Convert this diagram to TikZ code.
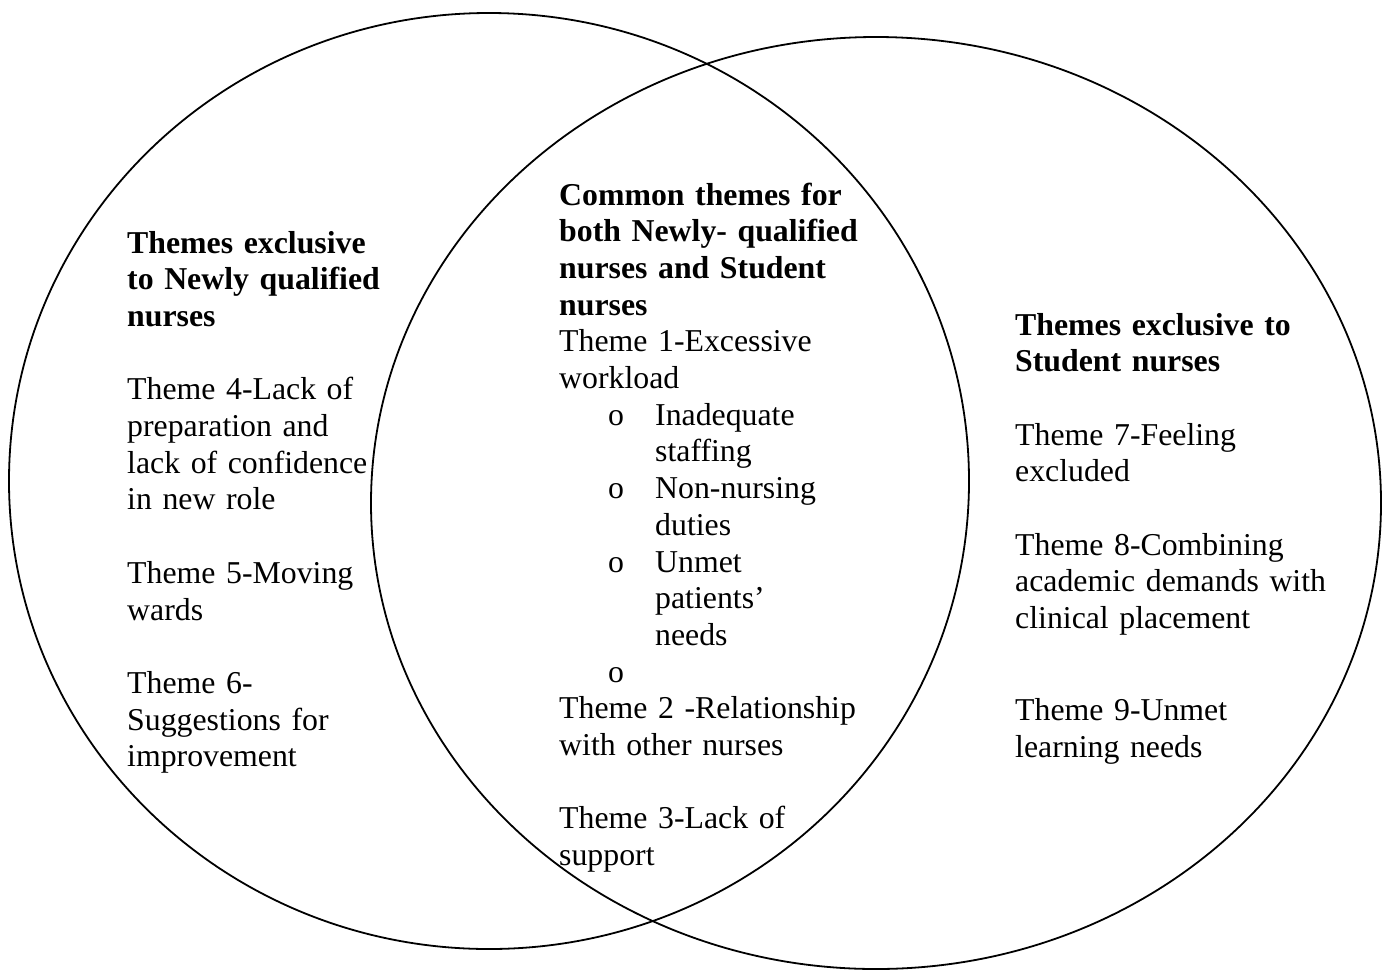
\documentclass[tikz,border=0pt]{standalone}
\usepackage{fontspec}
\setmainfont{Liberation Serif}
\begin{document}
\begin{tikzpicture}[x=1pt,y=-1pt,
  ring/.style={draw=black,line width=1.8pt},
  txt/.style={anchor=base west,inner sep=0pt,align=left,
    font=\fontsize{31.8}{36.7}\selectfont}]
\useasboundingbox (0,0) rectangle (1388,970);
\draw[ring] (489,481) ellipse [x radius=480pt, y radius=468pt];
\draw[ring] (876,503) ellipse [x radius=505pt, y radius=466pt];
\node[txt,text width=290pt] (left) at (127,253)
 {\textbf{Themes exclusive}\\ \textbf{to Newly qualified}\\ \textbf{nurses}\\[36.7pt]
  Theme 4-Lack of\\ preparation and\\ lack of confidence\\ in new role\\[36.7pt]
  Theme 5-Moving\\ wards\\[36.7pt]
  Theme 6-\\ Suggestions for\\ improvement};
\node[txt,text width=330pt] (mid) at (559,205)
 {\textbf{Common themes for}\\ \textbf{both Newly- qualified}\\ \textbf{nurses and Student}\\ \textbf{nurses}\\
  Theme 1-Excessive\\ workload\\
  \hspace*{49pt}\makebox[47pt][l]{o}Inadequate\\
  \hspace*{96pt}staffing\\
  \hspace*{49pt}\makebox[47pt][l]{o}Non-nursing\\
  \hspace*{96pt}duties\\
  \hspace*{49pt}\makebox[47pt][l]{o}Unmet\\
  \hspace*{96pt}patients’\\
  \hspace*{96pt}needs\\
  \hspace*{49pt}o\\
  Theme 2 -Relationship\\ with other nurses\\[36.7pt]
  Theme 3-Lack of\\ support};
\node[txt,text width=350pt] (right) at (1015,335)
 {\textbf{Themes exclusive to}\\ \textbf{Student nurses}\\[36.7pt]
  Theme 7-Feeling\\ excluded\\[36.7pt]
  Theme 8-Combining\\ academic demands with\\ clinical placement\\[55pt]
  Theme 9-Unmet\\ learning needs};
\end{tikzpicture}
\end{document}
